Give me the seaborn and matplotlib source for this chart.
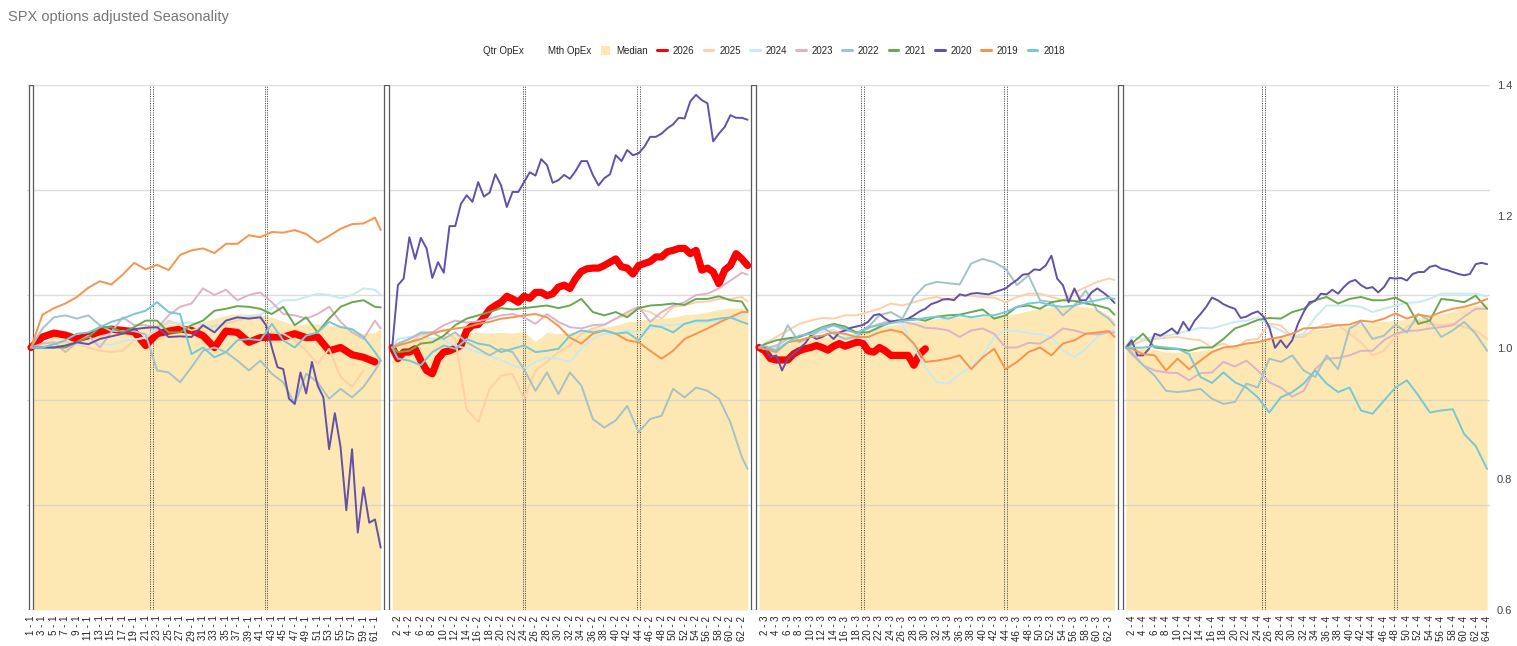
import numpy as np
import pandas as pd
import matplotlib
matplotlib.use("Agg")
import matplotlib.pyplot as plt
import seaborn as sns
from matplotlib.lines import Line2D
from matplotlib.patches import Patch

sns.set_theme(style="white")
plt.rcParams["font.family"] = ["Liberation Sans", "DejaVu Sans"]

# ---------------- categories ----------------
QTR_LEN = [62, 63, 63, 64]            # trading days per quarter
MTH_OPEX_DAYS = [[22, 42], [24, 44], [19, 44], [25, 48]]

Q1_DAYS = list(range(1, 62, 2)) + [62]
Q2_DAYS = [1] + list(range(2, 63, 2)) + [63]
Q3_DAYS = [1] + list(range(2, 63, 2)) + [63]
Q4_DAYS = [1] + list(range(2, 65, 2))
Q1_DAYS_MIXED = list(range(1, 42, 2)) + list(range(42, 63))

YEARS = ["2026", "2025", "2024", "2023", "2022", "2021", "2020", "2019", "2018"]

# ---------------- values ----------------
MEDIAN_Q1 = [1.000,1.008,1.018,1.023,1.021,1.023,1.023,1.021,1.023,1.029,1.034,1.039,1.036,1.036,1.034,1.039,
             1.044,1.049,1.051,1.051,1.049,1.046,1.040,1.034,1.036,1.036,1.034,1.034,1.029,1.021,1.023,1.029]
MEDIAN_Q2 = [1.000,1.006,1.008,1.013,1.016,1.018,1.021,1.023,1.023,1.022,1.023,1.022,1.024,1.009,1.023,1.021,
             1.023,1.026,1.029,1.031,1.034,1.039,1.041,1.044,1.044,1.046,1.050,1.051,1.054,1.058,1.060,1.060,1.059]
MEDIAN_Q3 = [1.000,1.002,1.006,1.008,1.011,1.013,1.016,1.017,1.018,1.022,1.026,1.030,1.034,1.036,1.039,1.041,
             1.044,1.045,1.046,1.046,1.047,1.048,1.049,1.052,1.056,1.059,1.062,1.063,1.064,1.062,1.059,1.050,1.041]
MEDIAN_Q4 = [1.000,1.000,1.000,0.997,0.993,0.993,0.993,0.995,0.998,1.000,1.003,1.006,1.011,1.013,1.016,1.019,
             1.023,1.026,1.029,1.031,1.034,1.036,1.039,1.040,1.041,1.043,1.045,1.048,1.051,1.055,1.062,1.064,1.067]

Y2026_Q1 = [1.000,1.016,1.022,1.019,1.013,1.018,1.024,1.028,1.026,1.024,1.003,1.021,1.025,1.028,1.026,1.018,
            1.000,1.025,1.023,1.008,1.015,1.016,1.016,1.021,1.015,1.016,0.995,1.000,0.989,0.985,0.978]
Y2026_Q2 = [1.000,0.983,0.993,0.993,0.998,0.980,0.965,0.960,0.983,0.993,0.995,0.999,1.003,1.026,1.034,1.035,
            1.046,1.058,1.064,1.069,1.078,1.074,1.069,1.078,1.075,1.084,1.084,1.079,1.082,1.092,1.095,1.090,
            1.105,1.116,1.120,1.121,1.121,1.125,1.130,1.135,1.123,1.121,1.112,1.125,1.128,1.131,1.138,1.138,
            1.146,1.148,1.151,1.151,1.143,1.148,1.118,1.121,1.115,1.097,1.118,1.125,1.143,1.135,1.125]
Y2026_Q3 = [1.000,0.995,0.983,0.981,0.981,0.981,0.990,0.995,0.998,1.000,1.003,1.000,0.996,1.002,1.006,1.002,
            1.005,1.008,1.008,0.995,0.993,1.000,0.995,0.988,0.988,0.988,0.988,0.973,0.990,0.998]

Y2025_Q1 = [1.000,1.000,1.005,1.008,1.005,1.000,0.995,0.993,0.995,1.011,1.016,1.026,1.041,1.034,1.026,1.031,
            1.033,1.036,1.041,1.046,1.049,1.023,1.021,1.011,0.995,0.975,0.998,0.955,0.940,0.965]
Y2025_Q2 = [1.000,1.003,1.008,1.018,1.023,1.026,1.013,0.906,0.886,0.937,0.957,0.960,0.922,0.965,0.978,0.993,
            1.003,1.021,1.029,1.034,1.044,1.050,1.059,1.054,1.044,1.062,1.064,1.069,1.070,1.074,1.074,1.077,1.070]
Y2025_Q3 = [1.000,1.006,1.016,1.026,1.036,1.041,1.045,1.044,1.049,1.049,1.054,1.059,1.067,1.064,1.069,1.074,
            1.077,1.072,1.079,1.079,1.077,1.076,1.069,1.077,1.082,1.082,1.077,1.072,1.084,1.092,1.100,1.105,1.103]
Y2025_Q4 = [1.000,1.003,1.011,1.013,1.015,1.016,1.013,1.011,1.000,1.006,0.998,1.011,1.013,1.036,1.034,1.016,
            1.016,1.029,1.036,1.034,1.021,1.008,0.988,0.995,1.016,1.031,1.041,1.036,1.034,1.036,1.031,1.026,1.013]

Y2024_Q1 = [1.000,0.998,1.000,1.002,1.005,1.008,1.006,1.004,1.010,1.012,1.015,1.030,1.037,1.037,1.038,1.035,
            1.030,1.040,1.045,1.048,1.050,1.060,1.072,1.072,1.077,1.082,1.080,1.075,1.080,1.090,1.088,1.080]
Y2024_Q2 = [1.000,1.013,1.016,1.018,1.013,1.011,1.003,0.998,0.993,0.988,0.980,0.973,0.967,0.978,0.985,0.983,
            0.978,0.998,1.013,1.021,1.021,1.026,1.023,1.029,1.034,1.034,1.036,1.038,1.039,1.041,1.044,1.049,1.054]
Y2024_Q3 = [1.000,0.998,1.000,1.008,1.016,1.021,1.023,1.027,1.018,1.016,1.011,1.031,1.039,1.036,1.000,0.970,
            0.947,0.945,0.960,0.971,0.988,1.016,1.026,1.025,1.022,1.020,1.016,0.995,0.985,0.998,1.016,1.025,1.026]
Y2024_Q4 = [1.000,1.016,1.013,1.016,1.018,1.021,1.026,1.030,1.029,1.034,1.039,1.041,1.046,1.034,1.026,1.016,
            1.021,1.046,1.064,1.064,1.064,1.062,1.054,1.059,1.064,1.068,1.069,1.074,1.082,1.082,1.082,1.082,1.078]

Y2023_Q1 = [1.000,1.006,1.008,0.993,1.008,1.018,1.000,1.023,1.046,1.034,1.034,1.029,1.049,1.062,1.067,1.090,
            1.080,1.088,1.072,1.080,1.084,1.069,1.051,1.049,1.044,1.051,1.062,1.039,1.023,1.013,1.041,1.029]
Y2023_Q2 = [1.000,1.005,1.013,1.021,1.023,1.034,1.041,1.038,1.040,1.044,1.049,1.051,1.046,1.036,1.051,1.039,
            1.031,1.029,1.034,1.035,1.044,1.054,1.062,1.039,1.054,1.064,1.069,1.080,1.082,1.090,1.102,1.114,1.111]
Y2023_Q3 = [1.000,0.998,1.003,1.013,1.016,1.023,1.027,1.034,1.026,1.023,1.029,1.036,1.041,1.039,1.036,1.030,
            1.029,1.026,1.016,1.026,1.029,1.021,1.000,1.000,1.007,1.006,1.016,1.029,1.026,1.021,1.020,1.023,1.023]
Y2023_Q4 = [1.000,0.993,0.973,0.965,0.962,0.961,0.950,0.961,0.962,0.978,0.971,0.980,0.965,0.947,0.939,0.925,
            0.934,0.967,0.983,0.984,0.988,0.995,0.995,1.011,1.021,1.025,1.026,1.029,1.031,1.034,1.047,1.059,1.059]

Y2022_Q1 = [1.000,1.029,1.046,1.049,1.044,1.049,1.034,1.025,1.025,1.025,1.020,0.965,0.962,0.947,0.970,0.995,
            1.000,0.993,0.980,0.965,0.980,0.960,0.947,0.914,0.960,0.947,0.922,0.937,0.924,0.940,0.965,0.980]
Y2022_Q2 = [1.000,1.006,1.013,1.023,1.023,1.013,1.023,1.008,0.998,0.988,0.998,0.993,0.967,0.934,0.962,0.929,
            0.962,0.942,0.891,0.878,0.889,0.911,0.871,0.891,0.896,0.937,0.924,0.939,0.934,0.922,0.886,0.833,0.815]
Y2022_Q3 = [1.000,1.000,0.995,1.034,1.008,1.016,1.030,1.021,1.013,1.016,1.031,1.049,1.054,1.044,1.077,1.095,
            1.100,1.098,1.096,1.128,1.135,1.130,1.120,1.095,1.110,1.072,1.069,1.049,1.064,1.087,1.056,1.044,1.034]
Y2022_Q4 = [1.000,0.990,0.973,0.957,0.934,0.932,0.934,0.937,0.922,0.914,0.917,0.945,0.939,0.983,0.978,0.988,
            0.965,0.955,0.988,0.967,1.029,1.039,1.013,1.018,1.035,1.023,1.051,1.041,1.016,1.026,1.039,1.021,0.995]

Y2021_Q1 = [1.000,1.000,1.000,1.000,1.008,1.016,1.031,1.031,1.023,1.031,1.041,1.041,1.023,1.023,1.034,1.041,
            1.056,1.059,1.063,1.062,1.059,1.051,1.062,1.034,1.046,1.023,1.044,1.062,1.069,1.072,1.062,1.061]
Y2021_Q2 = [1.000,0.993,0.995,1.006,1.008,1.018,1.034,1.044,1.049,1.054,1.060,1.058,1.060,1.062,1.064,1.060,
            1.064,1.074,1.054,1.049,1.054,1.046,1.060,1.064,1.065,1.067,1.065,1.074,1.074,1.078,1.072,1.070,1.056]
Y2021_Q3 = [1.000,1.005,1.011,1.014,1.016,1.023,1.031,1.036,1.032,1.023,1.023,1.031,1.039,1.042,1.044,1.041,
            1.047,1.049,1.050,1.054,1.058,1.044,1.049,1.062,1.064,1.059,1.069,1.072,1.071,1.067,1.064,1.059,1.050]
Y2021_Q4 = [1.000,1.006,1.021,1.000,0.998,0.998,0.995,1.000,1.000,1.013,1.029,1.035,1.042,1.045,1.044,1.054,
            1.059,1.072,1.077,1.067,1.074,1.077,1.072,1.072,1.076,1.067,1.036,1.041,1.074,1.072,1.069,1.079,1.059]

Y2020_Q1 = [1.000,1.000,1.000,1.003,1.008,1.005,1.013,1.017,1.021,1.028,1.030,1.031,1.016,1.017,1.016,1.034,
            1.023,1.041,1.046,1.044,1.046,
            1.034,1.000,0.970,0.967,0.922,0.914,0.962,0.930,0.978,0.942,0.924,0.845,0.900,0.848,0.752,0.845,
            0.718,0.787,0.733,0.738,0.695]
Y2020_Q2 = [1.000,1.095,1.105,1.168,1.135,1.167,1.151,1.106,1.130,1.114,1.185,1.185,1.219,1.232,1.222,1.252,
            1.230,1.236,1.264,1.247,1.214,1.237,1.237,1.252,1.267,1.262,1.287,1.278,1.251,1.255,1.263,1.257,
            1.269,1.284,1.284,1.263,1.247,1.258,1.264,1.293,1.284,1.301,1.293,1.296,1.306,1.321,1.321,1.326,
            1.334,1.340,1.350,1.349,1.375,1.385,1.377,1.372,1.314,1.326,1.336,1.354,1.350,1.350,1.347]
Y2020_Q3 = [1.000,1.000,0.985,0.988,0.965,0.983,0.990,0.998,1.006,1.018,1.013,1.016,1.021,1.013,1.023,1.026,
            1.030,1.032,1.034,1.039,1.049,1.051,1.044,1.039,1.041,1.041,1.044,1.049,1.055,1.059,1.066,1.069,
            1.073,1.074,1.072,1.081,1.079,1.082,1.083,1.082,1.081,1.084,1.087,1.090,1.097,1.103,1.111,1.112,
            1.119,1.118,1.125,1.140,1.105,1.095,1.069,1.090,1.072,1.072,1.084,1.090,1.084,1.077,1.068]
Y2020_Q4 = [1.000,1.011,0.988,0.988,0.998,1.021,1.018,1.023,1.029,1.021,1.039,1.026,1.041,1.051,1.062,1.076,
            1.072,1.066,1.062,1.059,1.045,1.047,1.052,1.055,1.047,1.031,0.9995,1.011,0.9995,1.011,1.036,1.054,
            1.069,1.071,1.082,1.081,1.088,1.082,1.092,1.100,1.103,1.095,1.090,1.092,1.084,1.092,1.106,1.105,
            1.106,1.102,1.112,1.115,1.115,1.123,1.125,1.120,1.118,1.115,1.112,1.110,1.112,1.127,1.129,1.127]

Y2019_Q1 = [1.000,1.050,1.060,1.067,1.077,1.091,1.101,1.096,1.111,1.129,1.119,1.126,1.118,1.141,1.148,1.151,
            1.144,1.158,1.158,1.171,1.168,1.176,1.175,1.179,1.173,1.160,1.170,1.181,1.188,1.189,1.198,1.179]
Y2019_Q2 = [1.000,1.003,1.008,1.013,1.021,1.026,1.029,1.031,1.036,1.039,1.044,1.046,1.049,1.051,1.046,1.033,
            1.015,1.006,1.021,1.026,1.021,1.011,1.008,0.995,0.983,0.995,1.013,1.021,1.029,1.038,1.046,1.054,1.054]
Y2019_Q3 = [1.000,0.998,0.993,1.008,1.011,1.016,1.018,1.023,1.021,1.016,1.016,1.023,1.027,1.023,1.006,0.978,
            0.980,0.983,0.988,0.967,0.985,0.998,0.967,0.978,0.993,1.000,0.988,1.006,1.011,1.021,1.023,1.025,1.016]
Y2019_Q4 = [1.000,0.998,0.990,0.988,0.965,0.983,0.967,0.980,0.993,1.000,1.002,1.006,1.008,1.013,1.016,1.021,
            1.029,1.030,1.031,1.034,1.035,1.041,1.039,1.044,1.052,1.044,1.050,1.047,1.054,1.059,1.062,1.067,1.074]

Y2018_Q1 = [1.000,1.000,1.005,1.011,1.021,1.023,1.031,1.039,1.044,1.051,1.056,1.069,1.054,1.051,0.990,1.000,
            0.985,0.993,1.011,1.013,1.011,1.036,1.011,1.000,1.018,1.023,1.039,1.031,1.028,1.016,0.993,0.980]
Y2018_Q2 = [1.000,0.983,0.980,0.973,0.993,1.003,0.998,1.013,1.006,1.003,0.993,0.998,1.003,0.993,0.995,0.998,
            1.018,1.026,1.023,1.026,1.021,1.023,1.011,1.034,1.031,1.023,1.036,1.041,1.041,1.044,1.046,1.039,1.036]
Y2018_Q3 = [1.000,1.002,0.995,1.008,1.018,1.021,1.030,1.034,1.029,1.021,1.031,1.034,1.037,1.041,1.042,1.045,
            1.047,1.044,1.049,1.046,1.049,1.049,1.054,1.062,1.067,1.069,1.064,1.062,1.064,1.069,1.072,1.076,1.074]
Y2018_Q4 = [1.000,0.9995,1.000,1.002,1.000,0.998,0.990,0.955,0.946,0.962,0.947,0.939,0.924,0.901,0.924,0.932,
            0.945,0.965,0.945,0.932,0.939,0.904,0.899,0.919,0.939,0.950,0.927,0.901,0.904,0.906,0.868,0.850,0.815]

# ---------------- styling ----------------
COLORS = {"2026": "#ff0000", "2025": "#fcd0a8", "2024": "#c7eaf0", "2023": "#dbb4c9",
          "2022": "#a3c3c8", "2021": "#6aa84f", "2020": "#6450a8", "2019": "#f7944d",
          "2018": "#74c9d5"}
WIDTHS = {y: 1.4 for y in YEARS}
WIDTHS["2026"] = 5.2
MEDIAN_COLOR = "#fde8b3"

# ---------------- assemble ----------------
starts = []
s = 0
for L in QTR_LEN:
    starts.append(s)
    s += L + 1
n_cat = s - 1

def pos(q, d):
    return starts[q] + d - 1

daily = [list(range(1, L + 1)) for L in QTR_LEN]
SERIES = {
    "2026": [(Q1_DAYS, Y2026_Q1), (daily[1], Y2026_Q2), (daily[2], Y2026_Q3)],
    "2025": [(Q1_DAYS, Y2025_Q1), (Q2_DAYS, Y2025_Q2), (Q3_DAYS, Y2025_Q3), (Q4_DAYS, Y2025_Q4)],
    "2024": [(Q1_DAYS, Y2024_Q1), (Q2_DAYS, Y2024_Q2), (Q3_DAYS, Y2024_Q3), (Q4_DAYS, Y2024_Q4)],
    "2023": [(Q1_DAYS, Y2023_Q1), (Q2_DAYS, Y2023_Q2), (Q3_DAYS, Y2023_Q3), (Q4_DAYS, Y2023_Q4)],
    "2022": [(Q1_DAYS, Y2022_Q1), (Q2_DAYS, Y2022_Q2), (Q3_DAYS, Y2022_Q3), (Q4_DAYS, Y2022_Q4)],
    "2021": [(Q1_DAYS, Y2021_Q1), (Q2_DAYS, Y2021_Q2), (Q3_DAYS, Y2021_Q3), (Q4_DAYS, Y2021_Q4)],
    "2020": [(Q1_DAYS_MIXED, Y2020_Q1), (daily[1], Y2020_Q2), (daily[2], Y2020_Q3), (daily[3], Y2020_Q4)],
    "2019": [(Q1_DAYS, Y2019_Q1), (Q2_DAYS, Y2019_Q2), (Q3_DAYS, Y2019_Q3), (Q4_DAYS, Y2019_Q4)],
    "2018": [(Q1_DAYS, Y2018_Q1), (Q2_DAYS, Y2018_Q2), (Q3_DAYS, Y2018_Q3), (Q4_DAYS, Y2018_Q4)],
}
rows = []
for year, parts in SERIES.items():
    for q, (days, vals) in enumerate(parts):
        for d, v in zip(days, vals):
            rows.append({"year": year, "quarter": q, "pos": pos(q, d), "value": v})
df = pd.DataFrame(rows)

MEDIAN = [(Q1_DAYS, MEDIAN_Q1), (Q2_DAYS, MEDIAN_Q2), (Q3_DAYS, MEDIAN_Q3), (Q4_DAYS, MEDIAN_Q4)]

# ---------------- figure ----------------
W, H = 1517, 646
fig = plt.figure(figsize=(W / 100, H / 100), dpi=100)
ax = fig.add_axes([27 / W, 1 - 610 / H, (1490 - 27) / W, (610 - 85) / H])
ax.set_xlim(-0.7, n_cat - 0.5)
ax.set_ylim(0.6, 1.4)

# median area
for q, (days, vals) in enumerate(MEDIAN):
    xs = [pos(q, d) for d in days]
    ax.fill_between(xs, 0.6, vals, color=MEDIAN_COLOR, lw=0, zorder=1)

# gridlines (hidden left scale with 5 divisions)
for g in np.linspace(0.6, 1.4, 6)[1:]:
    ax.axhline(g, color="#cfcfcf", lw=1.0, alpha=0.7, zorder=1.5)

# quarterly opex separators
qtr_pos = [0] + [starts[q] - 1 for q in range(1, 4)]
for p in qtr_pos:
    ax.axvspan(p - 0.42, p + 0.42, facecolor="white", edgecolor="#5a5a5a", lw=0.9, zorder=2.5)

# monthly opex
for q, ds in enumerate(MTH_OPEX_DAYS):
    for d in ds:
        p = pos(q, d)
        for off in (-0.22, 0.22):
            ax.axvline(p + off, color="#555555", lw=0.7, ls=(0, (1.2, 1.2)), zorder=2.6)

# lines
for i, year in enumerate(YEARS):
    sub = df[df["year"] == year]
    sns.lineplot(data=sub, x="pos", y="value", units="quarter", estimator=None,
                 color=COLORS[year], linewidth=WIDTHS[year], ax=ax, legend=False,
                 zorder=3 + i * 0.1)

# axes styling
for sp in ax.spines.values():
    sp.set_visible(False)
ax.set_xlabel("")
ax.set_ylabel("")
ticks = list(range(0, n_cat, 2))
labels = []
for t in ticks:
    lab = ""
    for q in range(4):
        if starts[q] <= t < starts[q] + QTR_LEN[q]:
            lab = f"{t - starts[q] + 1} - {q + 1}"
    labels.append(lab)
ax.set_xticks(ticks)
ax.set_xticklabels(labels, rotation=90, fontsize=7, color="#222222")
ax.tick_params(axis="x", length=0, pad=4)
ax.yaxis.tick_right()
ax.set_yticks([0.6, 0.8, 1.0, 1.2, 1.4])
ax.set_yticklabels(["0.6", "0.8", "1.0", "1.2", "1.4"], fontsize=8, color="#444444")
ax.tick_params(axis="y", length=0, pad=5)
ax.grid(False)

# title
fig.text(8 / W, 1 - 17 / H, "SPX options adjusted Seasonality", fontsize=10.5,
         color="#757575", va="center", ha="left")

# legend
handles = [Line2D([], [], color="none"), Line2D([], [], color="none"),
           Patch(facecolor=MEDIAN_COLOR, edgecolor="none")]
handles += [Line2D([], [], color=COLORS[y], lw=2.2) for y in YEARS]
leg_labels = ["Qtr OpEx", "Mth OpEx", "Median"] + YEARS
fig.legend(handles, leg_labels, loc="center", bbox_to_anchor=(766 / W, 1 - 51 / H),
           ncol=len(leg_labels), frameon=False, fontsize=7, handlelength=1.0,
           handletextpad=0.6, columnspacing=0.95, handleheight=1.1)

fig.savefig("out.png", dpi=100)
